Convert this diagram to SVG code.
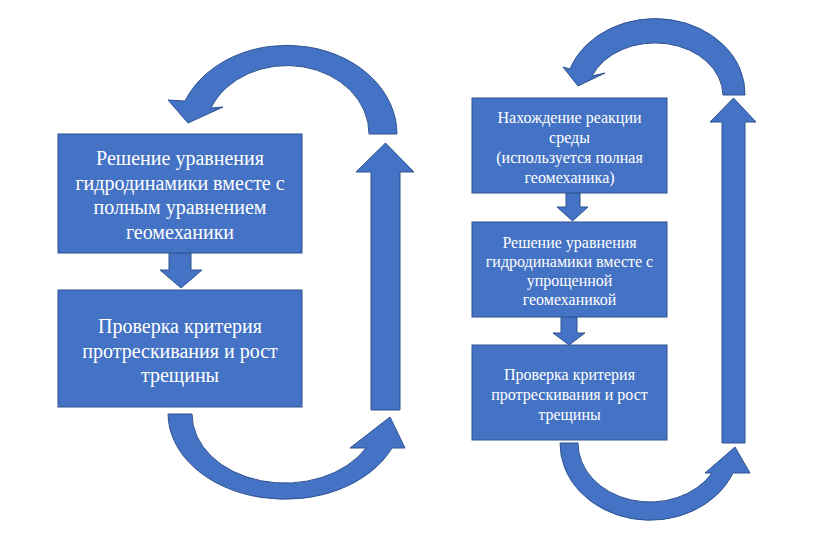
<svg xmlns="http://www.w3.org/2000/svg" width="836" height="535" viewBox="0 0 836 535">
<style>
.sh{fill:#4472C4;stroke:#2F528F;stroke-width:1;stroke-linejoin:miter}
.tl{font-family:"Liberation Serif","Times New Roman",serif;font-size:20px;fill:#fff;text-anchor:middle}
.tr{font-family:"Liberation Serif","Times New Roman",serif;font-size:16px;fill:#fff;text-anchor:middle}
</style>
<rect width="836" height="535" fill="#fff"/>
<g id="connectors">
<path class="sh" d="M397 134 A110 89 0 0 0 185 101 L168 100 L188 123 L223 107 L211 108 A82 68 0 0 1 369 134 Z"/>
<path class="sh" d="M168 414 A117 86 0 0 0 392 448 L405 448 L390 417 L350 448 L366 448 A93 69 0 0 1 192 414 Z"/>
<path class="sh" d="M371 410 L371 172 L356 172 L385.5 143 L414 172 L400 172 L400 410 Z"/>
<path class="sh" d="M169 253 L191 253 L191 270 L202 270 L181 288 L160 270 L169 270 Z"/>
<path class="sh" d="M745 95 A90 75 0 0 0 570 69 L563 67 L578 86 L605 73 L592 76 A68 53 0 0 1 723 95 Z"/>
<path class="sh" d="M560 443 A90 77 0 0 0 733 473 L750 473 L735 447 L705 473 L712 473 A72 59 0 0 1 578 443 Z"/>
<path class="sh" d="M722 443 L722 122 L710 122 L733.5 98 L756 122 L745 122 L745 443 Z"/>
<path class="sh" d="M566 193 L580 193 L580 207 L588 207 L572.5 221 L557 207 L566 207 Z"/>
<path class="sh" d="M561 317 L577 317 L577 333 L585 333 L569 345 L553 333 L561 333 Z"/>
</g>
<g id="left-solve">
<rect class="sh" x="58" y="134" width="244" height="119"/>
<text class="tl" x="180" y="165">Решение уравнения</text>
<text class="tl" x="180" y="189.5">гидродинамики вместе с</text>
<text class="tl" x="180" y="214">полным уравнением</text>
<text class="tl" x="180" y="238.5">геомеханики</text>
</g>
<g id="left-check">
<rect class="sh" x="58" y="290" width="244" height="117"/>
<text class="tl" x="180" y="333">Проверка критерия</text>
<text class="tl" x="180" y="357.5">протрескивания и рост</text>
<text class="tl" x="180" y="382">трещины</text>
</g>
<g id="right-reaction">
<rect class="sh" x="472" y="98" width="195" height="95"/>
<text class="tr" x="569.5" y="123">Нахождение реакции</text>
<text class="tr" x="569.5" y="143">среды</text>
<text class="tr" x="569.5" y="163">(используется полная</text>
<text class="tr" x="569.5" y="183">геомеханика)</text>
</g>
<g id="right-solve">
<rect class="sh" x="472" y="222" width="195" height="95"/>
<text class="tr" x="569.5" y="248">Решение уравнения</text>
<text class="tr" x="569.5" y="267">гидродинамики вместе с</text>
<text class="tr" x="569.5" y="286">упрощенной</text>
<text class="tr" x="569.5" y="305">геомеханикой</text>
</g>
<g id="right-check">
<rect class="sh" x="472" y="345" width="195" height="95"/>
<text class="tr" x="569.5" y="380">Проверка критерия</text>
<text class="tr" x="569.5" y="400">протрескивания и рост</text>
<text class="tr" x="569.5" y="420">трещины</text>
</g>
</svg>
